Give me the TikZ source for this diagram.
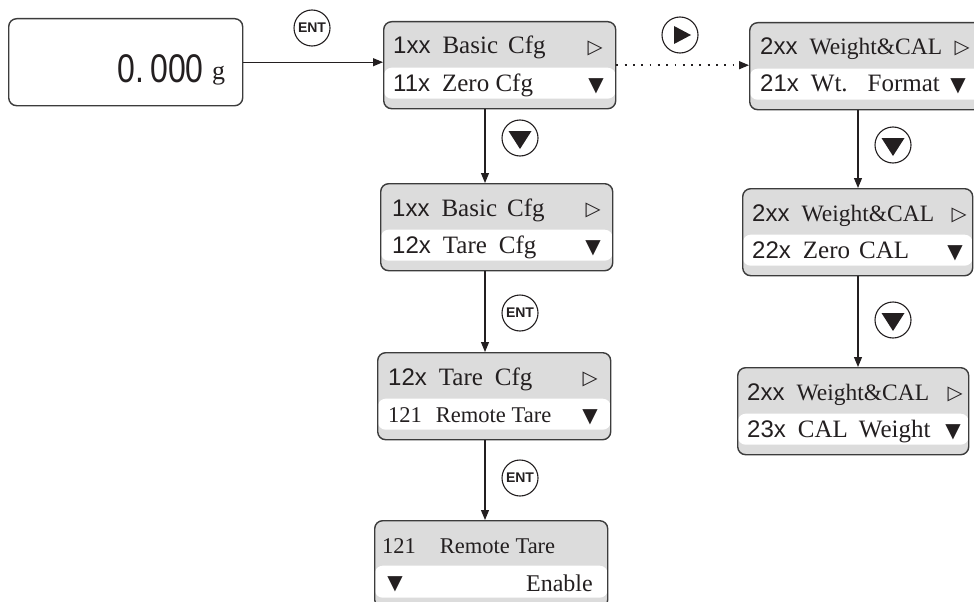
\documentclass[tikz,border=0pt]{standalone}
\usepackage{fontspec}
\usepackage{graphicx}
\setmainfont{Liberation Serif}
\setsansfont{Liberation Sans}
\newfontfamily\symfont{DejaVu Sans}
\usetikzlibrary{arrows.meta,calc}
\definecolor{boxgray}{HTML}{DCDCDC}
\definecolor{edge}{HTML}{3C3C3C}
\definecolor{ink}{HTML}{231F20}
\tikzset{
 menubox/.style={draw=edge, line width=1.4pt, rounded corners=8pt, fill=boxgray,
   minimum width=232pt, minimum height=87pt, anchor=north west, inner sep=0pt,
   path picture={\fill[white] ([yshift=-46pt]path picture bounding box.north west)
     rectangle ([yshift=10pt]path picture bounding box.south east);}},
 rowtext/.style={anchor=base west, inner sep=0pt, text=ink},
 symtext/.style={anchor=base, inner sep=0pt, text=ink, font=\symfont\fontsize{20}{20}\selectfont},
 opentri/.style={anchor=base, inner sep=0pt, text=ink, font=\symfont\fontsize{19.5}{19.5}\selectfont},
 conn/.style={draw=ink, line width=1.1pt, -{Triangle[length=10pt,width=8pt]}},
 dotconn/.style={draw=ink, line width=1.4pt, dash pattern=on 1.8pt off 6.5pt,
   -{Triangle[length=10pt,width=8pt]}},
 keycirc/.style={circle, draw=ink, line width=1.1pt, minimum size=36pt, inner sep=0pt, text=ink,
   font=\sffamily\bfseries\fontsize{14}{14}\selectfont},
}
\newcommand{\rtx}[2]{{\sffamily\fontsize{24}{24}\selectfont #1}\hspace{12pt}{\fontsize{25}{25}\selectfont #2}}
\newcommand{\rtw}[2]{{\sffamily\fontsize{24}{24}\selectfont #1}\hspace{12pt}{\fontsize{23.5}{23.5}\selectfont #2}}
\newcommand{\srf}[1]{{\fontsize{22.5}{22.5}\selectfont #1}}
\begin{document}
\begin{tikzpicture}[x=1pt,y=-1pt]
\clip (0,0) rectangle (974,602);
\fill[white] (0,0) rectangle (974,602);
% display
\node[draw=edge, line width=1.4pt, rounded corners=8pt, minimum width=234pt, minimum height=87pt,
  anchor=north west] (disp) at (8,18) {};
\node[anchor=base east, inner sep=0pt, text=ink] (dnum) at (204,82)
  {\sffamily\fontsize{40}{40}\selectfont\scalebox{0.8}[1]{0.\hspace{8pt}000}};
\node[anchor=base west, inner sep=0pt, text=ink] (dg) at (212,79) {\fontsize{26}{26}\selectfont g};
% left column
\node[menubox] (b1) at (383,21) {};
\node[rowtext] (b1a) at (393,54) {\rtx{1xx}{Basic\hspace{10pt}Cfg}};
\node[opentri] (b1s) at (595,53) {▷};
\node[rowtext] (b1b) at (393,91) {\rtx{11x}{Zero Cfg}};
\node[symtext] (b1t) at (596,91) {▼};

\node[menubox] (b2) at (380,183) {};
\node[rowtext] (b2a) at (392,216) {\rtx{1xx}{Basic\hspace{10pt}Cfg}};
\node[opentri] (b2s) at (593,215) {▷};
\node[rowtext] (b2b) at (392,253) {\rtx{12x}{Tare\hspace{12pt}Cfg}};
\node[symtext] (b2t) at (593,253) {▼};

\node[menubox, minimum width=233pt] (b3) at (377,352) {};
\node[rowtext] (b3a) at (388,385) {\rtx{12x}{Tare\hspace{12pt}Cfg}};
\node[opentri] (b3s) at (590,384) {▷};
\node[rowtext] (b3b) at (388,422) {\srf{121\hspace{14pt}Remote Tare}};
\node[symtext] (b3t) at (590,422) {▼};

\node[menubox, minimum width=233pt, path picture={\fill[white] ([yshift=-45pt]path picture bounding box.north west)
     rectangle ([yshift=10pt]path picture bounding box.south east);}] (b4) at (374,520) {};
\node[rowtext] (b4a) at (382,553) {\srf{121\hspace{24pt}Remote Tare}};
\node[symtext] (b4t) at (395,589) {▼};
\node[anchor=base east, inner sep=0pt, text=ink] (b4b) at (593,591) {\fontsize{24}{24}\selectfont Enable};

% right column
\node[menubox] (bA) at (749,22) {};
\node[rowtext] (bAa) at (760,55) {\rtw{2xx}{Weight\&CAL}};
\node[opentri] (bAs) at (962,54) {▷};
\node[rowtext] (bAb) at (760,92) {\rtx{21x}{Wt.\hspace{20pt}Format}};
\node[symtext] (bAt) at (958,92) {▼};

\node[menubox, minimum width=230pt] (bB) at (742,188) {};
\node[rowtext] (bBa) at (752,221) {\rtw{2xx}{Weight\&CAL}};
\node[opentri] (bBs) at (959,220) {▷};
\node[rowtext] (bBb) at (752,258) {\rtx{22x}{Zero\hspace{9pt}CAL}};
\node[symtext] (bBt) at (955,258) {▼};

\node[menubox, minimum width=231pt] (bC) at (737,367) {};
\node[rowtext] (bCa) at (747,400) {\rtw{2xx}{Weight\&CAL}};
\node[opentri] (bCs) at (955,399) {▷};
\node[rowtext] (bCb) at (747,437) {\rtx{23x}{CAL\hspace{11pt}Weight}};
\node[symtext] (bCt) at (953,437) {▼};

% key circles
\node[keycirc] (k1) at (312,28) {ENT};
\node[keycirc] (kR) at (680,35) {};
\node[keycirc] (kd1) at (520,138) {};
\node[keycirc] (k2) at (520,313) {ENT};
\node[keycirc] (k3) at (520,478) {ENT};
\node[keycirc] (kd2) at (893,145) {};
\node[keycirc] (kd3) at (893,320) {};
\fill[ink] ($(kR)+(-6,-9)$) -- ($(kR)+(-6,9)$) -- ($(kR)+(11,0)$) -- cycle;
\foreach \k in {kd1,kd2,kd3}{
  \fill[ink] ($(\k)+(-11.5,-7)$) -- ($(\k)+(11.5,-7)$) -- ($(\k)+(0,11)$) -- cycle;
}

% connectors
\coordinate (xl) at (485,0);
\coordinate (xr) at (858,0);
\draw[conn] (disp.east) -- (disp.east -| b1.west);
\draw[dotconn] (b1.east) -- (b1.east -| bA.west);
\draw[conn] (b1.south -| xl) -- (b2.north -| xl);
\draw[conn] (b2.south -| xl) -- (b3.north -| xl);
\draw[conn] (b3.south -| xl) -- (b4.north -| xl);
\draw[conn] (bA.south -| xr) -- (bB.north -| xr);
\draw[conn] (bB.south -| xr) -- (bC.north -| xr);
\end{tikzpicture}
\end{document}
